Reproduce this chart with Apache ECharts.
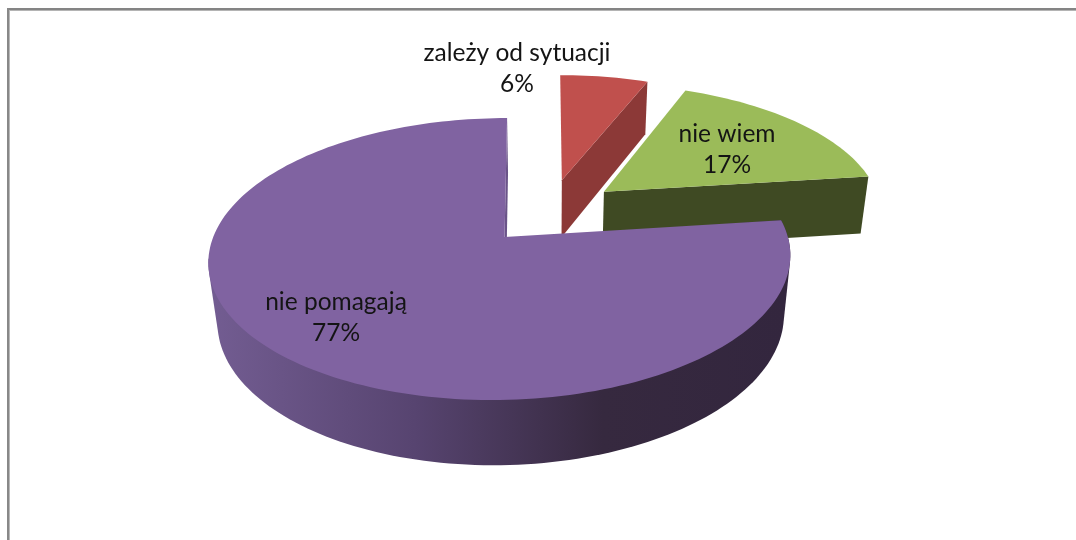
<!DOCTYPE html>
<html>
<head>
<meta charset="utf-8">
<style>html,body{margin:0;padding:0;background:#fff}#c{width:1076px;height:540px}</style>
<script src="https://cdn.jsdelivr.net/npm/echarts@6/dist/echarts.min.js"></script>
</head>
<body>
<div id="c"></div>
<script>
// chart data
const categories = ['zależy od sytuacji', 'nie wiem', 'nie pomagają'];
const values = [6, 17, 77];
const topColors = ['#C0504D', '#9BBB59', '#8063A1'];
const cutColors = ['#8C3937', '#3F4A23', '#6A5488'];
const labelAnchors = [[517, 69], [727, 150], [336, 318]];
const apexNudges = [0, 0, 4];

// projection of the tilted 3D pie: world (X, Y, depth) to screen
const view = {
  x0: 549, y0: 211.5,
  rx: 279, ry: 129.7,      // radius scale
  persp: 0.1516,           // foreshortening along Y
  depth: 60,               // wall height
  perspDepth: 0.026,       // foreshortening along the wall
  explode: 0.255,          // slice offset, in radii
  wallEnd: 0.728,          // last turn fraction of the visible outer wall
  steps: 120
};

function project(X, Y, Z) {
  const w = 1 + view.persp * Y + view.perspDepth * Z;
  return [view.x0 + view.rx * X / w, view.y0 + (-view.ry * Y + view.depth * Z) / w];
}

function convexHull(pts) {
  const p = pts.slice().sort((a, b) => a[0] - b[0] || a[1] - b[1]);
  const cross = (o, a, b) => (a[0] - o[0]) * (b[1] - o[1]) - (a[1] - o[1]) * (b[0] - o[0]);
  const build = list => {
    const out = [];
    list.forEach(q => {
      while (out.length >= 2 && cross(out[out.length - 2], out[out.length - 1], q) <= 0) out.pop();
      out.push(q);
    });
    out.pop();
    return out;
  };
  return build(p).concat(build(p.slice().reverse()));
}

const total = values.reduce((a, b) => a + b, 0);
let running = 0;
const sliceData = values.map((v, i) => {
  const row = [i, running / total, (running + v) / total, v];
  running += v;
  return row;
});

function renderSlice(params, api) {
  const i = api.value(0), f0 = api.value(1), f1 = api.value(2), val = api.value(3);
  const a0 = f0 * 2 * Math.PI, a1 = f1 * 2 * Math.PI, mid = (a0 + a1) / 2;
  const ox = view.explode * Math.sin(mid), oy = view.explode * Math.cos(mid);
  const rim = (a, z) => project(ox + Math.sin(a), oy + Math.cos(a), z);
  const apex = z => {
    const p = project(ox, oy, z);
    return [p[0] + apexNudges[i], p[1]];
  };

  const topArc = [], wallPts = [];
  const n = Math.max(4, Math.round(view.steps * (f1 - f0) * 2));
  const isMain = val === Math.max(...values);
  for (let k = 0; k <= n; k++) {
    const f = f0 + (f1 - f0) * k / n, a = f * 2 * Math.PI;
    topArc.push(rim(a, 0));
    if (isMain && f <= view.wallEnd) wallPts.push(rim(a, 0), rim(a, 1));
  }
  const children = [];
  if (isMain) {
    children.push({
      type: 'polygon',
      shape: { points: convexHull(wallPts) },
      style: {
        fill: new echarts.graphic.LinearGradient(215, 0, 785, 0, [
          { offset: 0, color: '#725C91' },
          { offset: 0.35, color: '#574470' },
          { offset: 0.68, color: '#36293F' },
          { offset: 1, color: '#33263E' }
        ], true)
      }
    });
  }
  children.push(
    { type: 'polygon', shape: { points: [apex(0), rim(a1, 0), rim(a1, 1), apex(1)] }, style: { fill: cutColors[i] } },
    { type: 'polygon', shape: { points: [apex(0)].concat(topArc) }, style: { fill: topColors[i] } },
    {
      type: 'text',
      z2: 10,
      style: {
        x: labelAnchors[i][0], y: labelAnchors[i][1],
        text: categories[i] + '\n' + val + '%',
        align: 'center', verticalAlign: 'middle',
        font: '24.5px Lato', lineHeight: 31, fill: '#141414'
      }
    }
  );
  return { type: 'group', children };
}

const chart = echarts.init(document.getElementById('c'), null, { renderer: 'canvas' });
chart.setOption({
  animation: false,
  backgroundColor: '#fff',
  graphic: [
    { type: 'rect', silent: true, shape: { x: 7, y: 8, width: 1069, height: 2 }, style: { fill: '#848484' } },
    { type: 'rect', silent: true, shape: { x: 7, y: 10, width: 1069, height: 1 }, style: { fill: '#B4B4B4' } },
    { type: 'rect', silent: true, shape: { x: 7, y: 8, width: 2, height: 532 }, style: { fill: '#888888' } },
    { type: 'rect', silent: true, shape: { x: 9, y: 10, width: 1, height: 530 }, style: { fill: '#B8B8B8' } }
  ],
  series: [{
    type: 'custom',
    coordinateSystem: 'none',
    renderItem: renderSlice,
    data: sliceData,
    dimensions: ['index', 'start', 'end', 'value']
  }]
});
</script>
</body>
</html>
